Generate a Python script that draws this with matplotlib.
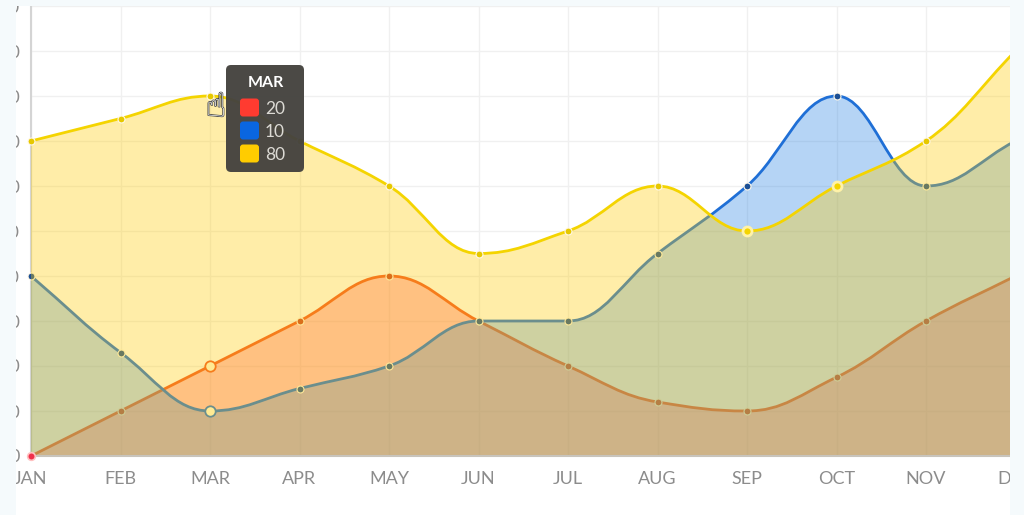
import numpy as np
import matplotlib
matplotlib.use("Agg")
import matplotlib.pyplot as plt
from matplotlib.path import Path
from matplotlib.patches import PathPatch, Rectangle, FancyBboxPatch
from matplotlib.transforms import IdentityTransform
import matplotlib.patheffects as pe

months = ["JAN", "FEB", "MAR", "APR", "MAY", "JUN", "JUL", "AUG", "SEP", "OCT", "NOV", "DEC"]
red_vals = [0, 10, 20, 30, 40, 30, 20, 12, 10, 17.5, 30, 40]
blue_vals = [40, 23, 10, 15, 20, 30, 30, 45, 60, 80, 60, 70]
yellow_vals = [70, 75, 80, 70, 60, 45, 50, 60, 50, 60, 70, 90]
y_ticks = [0, 10, 20, 30, 40, 50, 60, 70, 80, 90, 100]
tooltip_title = "MAR"
tooltip_labels = ["20", "10", "80"]
tooltip_colors = ["#ff3b30", "#0a66e0", "#ffcc00"]

W, H = 1024, 515
BG = "#f5fafc"
fig = plt.figure(figsize=(W / 100, H / 100), dpi=100, facecolor="white")
L, R, T, B = 31, 1015.5, 6, 456
ax = fig.add_axes([L / W, 1 - B / H, (R - L) / W, (B - T) / H])
ax.patch.set_alpha(0)
ax.set_xticks(range(len(months)), months)
ax.set_yticks(y_ticks)
ax.grid(True, color="#f0f0f0", lw=1.0)
ax.set_axisbelow(True)
for s in ["top", "right"]:
    ax.spines[s].set_visible(False)
ax.spines["left"].set_color("#d4d4d4")
ax.spines["left"].set_linewidth(1.5)
ax.spines["bottom"].set_color("#c8c4bc")
ax.spines["bottom"].set_linewidth(1.5)
ax.spines["bottom"].set_zorder(10)
ax.tick_params(axis="both", length=0, labelsize=13, labelcolor="#8c8c8c")
ax.tick_params(axis="x", pad=11)
ax.tick_params(axis="y", pad=8)
for t in ax.get_xticklabels() + ax.get_yticklabels():
    t.set_fontfamily("Lato")


def monotone_path(y, h=0.4):
    y = np.asarray(y, float)
    x = np.arange(len(y), dtype=float)
    d = np.diff(y)
    m = np.zeros_like(y)
    m[0], m[-1] = d[0], d[-1]
    for i in range(1, len(y) - 1):
        if d[i - 1] * d[i] > 0:
            m[i] = 2 * d[i - 1] * d[i] / (d[i - 1] + d[i])
    verts = [(x[0], y[0])]
    for i in range(len(y) - 1):
        verts += [(x[i] + h, y[i] + m[i] * h), (x[i + 1] - h, y[i + 1] - m[i + 1] * h), (x[i + 1], y[i + 1])]
    codes = [Path.MOVETO] + [Path.CURVE4] * (3 * (len(y) - 1))
    return verts, codes


series = [
    (red_vals, "#f2542a", "#ff3d52", "#c8402a", {2}),
    (blue_vals, "#1f6fd6", "#2681e2", "#1c4f94", {2}),
    (yellow_vals, "#f4d400", "#ffcc00", "#e6c800", {8, 9}),
]
for k, (vals, line, fc, dot, big) in enumerate(series):
    z = 2 + k
    v, c = monotone_path(vals)
    n = len(vals) - 1
    fv = v + [(n, 0), (0, 0), (0, vals[0])]
    fcodes = c + [Path.LINETO, Path.LINETO, Path.CLOSEPOLY]
    ax.add_patch(PathPatch(Path(fv, fcodes), fc=fc, ec="none", alpha=0.34, zorder=z))
    ax.add_patch(PathPatch(Path(v, c), fc="none", ec=line, lw=2.0, zorder=z + 0.1, capstyle="round"))
    for i, val in enumerate(vals):
        if k == 0 and i == 0:
            ax.plot(i, val, "o", ms=5.5, mfc="#f0304a", mec="#ffc0c0", mew=1.2, zorder=11, clip_on=False)
        elif i in big and k != 2:
            ax.plot(i, val, "o", ms=7.5, mfc="#fffbe0", mec=line, mew=1.3, zorder=z + 0.2)
        elif i in big:
            ax.plot(i, val, "o", ms=6.5, mfc=line, mec="#fff2a8", mew=2.0, zorder=z + 0.2)
        else:
            ax.plot(i, val, "o", ms=5, mfc=dot, mec="#fff8e8", mew=0.8, zorder=z + 0.2, clip_on=(i != 0))

ax.set_xlim(0, 11)
ax.set_ylim(0, 100)

# page strips around the white panel
STRIP_R = 1010
for xy, w, h in [((0, 0), 16, H), ((STRIP_R, 0), W - STRIP_R, H), ((0, H - T), W, T)]:
    fig.add_artist(Rectangle((xy[0] / W, xy[1] / H), w / W, h / H, transform=fig.transFigure,
                             fc=BG, ec="none", zorder=5))

# tooltip
box = FancyBboxPatch((226, H - 172), 78, 107, boxstyle="round,pad=0,rounding_size=5",
                     fc="#45433f", ec="none", alpha=0.97, zorder=6)
box.set_transform(IdentityTransform())
fig.add_artist(box)
fig.text(266 / W, 1 - 83 / H, tooltip_title, color="white", fontsize=11.5, fontweight="bold",
         family="Lato", ha="center", va="center", zorder=7)
for i, (lab, col) in enumerate(zip(tooltip_labels, tooltip_colors)):
    yy = 107.5 + i * 23
    s = FancyBboxPatch((240, H - yy - 9), 19, 18, boxstyle="round,pad=0,rounding_size=3", fc=col, ec="none", zorder=7)
    s.set_transform(IdentityTransform())
    fig.add_artist(s)
    fig.text(265 / W, 1 - (yy + 1.5) / H, lab, color="#dcdad4", fontsize=12.5, family="Lato", ha="left", va="center", zorder=7)

# hand cursor
fig.text(216 / W, 1 - 107 / H, "\u261d", color="white", fontsize=24, family="DejaVu Sans", ha="center", va="center",
         zorder=8, path_effects=[pe.withStroke(linewidth=1.0, foreground="#444444")])

fig.savefig("out.png", dpi=100, facecolor="white")
